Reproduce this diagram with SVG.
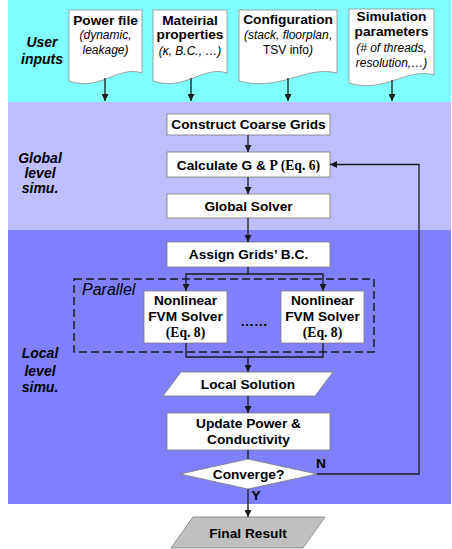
<svg xmlns="http://www.w3.org/2000/svg" width="452" height="549" viewBox="0 0 452 549">
<defs>
<marker id="ah" viewBox="0 0 10 10" refX="10" refY="5" markerWidth="7" markerHeight="7" markerUnits="userSpaceOnUse" orient="auto">
<path d="M0,0 L10,5 L0,10 Z" fill="#1a1a1a"/>
</marker>
<style>
.box{fill:#fff;stroke:#7a7a7a;stroke-width:0.8}
.doc{fill:#fff;stroke:#8a8a8a;stroke-width:0.8}
.t{font-family:"Liberation Sans",Arial,sans-serif;font-weight:bold;font-size:13.7px;fill:#000;text-anchor:middle}
.s{font-family:"Liberation Serif","Times New Roman",serif;font-weight:bold}
.it{font-family:"Liberation Sans",Arial,sans-serif;font-style:italic;font-size:12px;fill:#000;text-anchor:middle}
.lab{font-family:"Liberation Sans",Arial,sans-serif;font-style:italic;font-weight:bold;font-size:14px;fill:#000;text-anchor:middle}
.c{fill:none;stroke:#1a1a1a;stroke-width:1.3}
.ca{fill:none;stroke:#1a1a1a;stroke-width:1.3;marker-end:url(#ah)}
</style>
</defs>
<g id="bands">
<rect x="8" y="0" width="443" height="102" fill="#80FFFF"/>
<rect x="8" y="102" width="443" height="128" fill="#BFBFFF"/>
<rect x="8" y="230" width="443" height="274" fill="#8080FF"/>
</g>
<g id="labels">
<text class="lab" x="42" y="47">User</text>
<text class="lab" x="42" y="64">inputs</text>
<text class="lab" x="40" y="163">Global</text>
<text class="lab" x="40" y="178">level</text>
<text class="lab" x="40" y="193">simu.</text>
<text class="lab" x="40" y="358">Local</text>
<text class="lab" x="40" y="376">level</text>
<text class="lab" x="40" y="392">simu.</text>
</g>
<g id="doc-power">
<path class="doc" d="M69,10 H142 V73 C118,65 100,92 69,81 Z"/>
<text class="t" x="105.5" y="25">Power file</text>
<text class="it" x="105.5" y="39">(dynamic,</text>
<text class="it" x="105.5" y="54">leakage)</text>
</g>
<g id="doc-material">
<path class="doc" d="M153,10 H227 V73 C203,65 185,92 153,81 Z"/>
<text class="t" x="190" y="25">Mateirial</text>
<text class="t" x="190" y="39">properties</text>
<text class="it" x="190" y="55">(κ, B.C., …)</text>
</g>
<g id="doc-config">
<path class="doc" d="M239,10 H337 V73 C305,65 282,92 239,81 Z"/>
<text class="t" x="288" y="24">Configuration</text>
<text class="it" x="288" y="39">(stack, floorplan<tspan font-style="normal">,</tspan></text>
<text class="it" x="288" y="54"><tspan font-style="normal">TSV info</tspan>)</text>
</g>
<g id="doc-sim">
<path class="doc" d="M349,9 H434 V75 C406,67 386,94 349,83 Z"/>
<text class="t" x="391.5" y="21">Simulation</text>
<text class="t" x="391.5" y="36">parameters</text>
<text class="it" x="391.5" y="52">(# of threads,</text>
<text class="it" x="391.5" y="67">resolution,…)</text>
</g>
<g id="construct">
<rect class="box" x="167" y="114" width="163" height="21"/>
<text class="t" x="248.5" y="129">Construct Coarse Grids</text>
</g>
<g id="calculate">
<rect class="box" x="167" y="152" width="163" height="25"/>
<text class="t" x="248.5" y="169.5">Calculate G &amp; <tspan class="s">P (Eq. 6)</tspan></text>
</g>
<g id="global-solver">
<rect class="box" x="167" y="194" width="163" height="24"/>
<text class="t" x="248.5" y="211">Global Solver</text>
</g>
<g id="assign">
<rect class="box" x="167" y="242" width="163" height="25"/>
<text class="t" x="248.5" y="259">Assign Grids’ B.C.</text>
</g>
<g id="parallel">
<rect x="74" y="279" width="300" height="73" fill="none" stroke="#1a1a1a" stroke-width="1.5" stroke-dasharray="8,4"/>
<text x="82" y="295" font-family="'Liberation Sans',Arial,sans-serif" font-style="italic" font-size="16" fill="#000">Parallel</text>
</g>
<g id="fvm1">
<rect class="box" x="144" y="291" width="83" height="52"/>
<text class="t" x="185.5" y="305">Nonlinear</text>
<text class="t" x="185.5" y="321">FVM Solver</text>
<text class="t s" x="185.5" y="337" font-size="13">(Eq. 8)</text>
</g>
<g id="dots">
<text class="t" x="254" y="326">……</text>
</g>
<g id="fvm2">
<rect class="box" x="281" y="291" width="83" height="52"/>
<text class="t" x="322.5" y="305">Nonlinear</text>
<text class="t" x="322.5" y="321">FVM Solver</text>
<text class="t s" x="322.5" y="337" font-size="13">(Eq. 8)</text>
</g>
<g id="local-solution">
<polygon class="box" points="181,372 333,372 315,396 163,396"/>
<text class="t" x="248" y="389">Local Solution</text>
</g>
<g id="update">
<rect class="box" x="167" y="413" width="163" height="37"/>
<text class="t" x="248.5" y="428">Update Power &amp;</text>
<text class="t" x="248.5" y="444">Conductivity</text>
</g>
<g id="converge">
<polygon class="box" points="248,459 317,474 248,489 180,474"/>
<text class="t" x="248.5" y="479">Converge?</text>
</g>
<g id="final">
<polygon points="193,517 325,517 303,548 171,548" fill="#C0C0C0" stroke="#7a7a7a" stroke-width="0.8"/>
<text class="t" x="248" y="538">Final Result</text>
</g>
<g id="connectors">
<line class="ca" x1="105" y1="78" x2="105" y2="101"/>
<line class="ca" x1="191" y1="78" x2="191" y2="101"/>
<line class="ca" x1="288" y1="78" x2="288" y2="101"/>
<line class="ca" x1="392" y1="80" x2="392" y2="101"/>
<line class="ca" x1="248" y1="135" x2="248" y2="152"/>
<line class="ca" x1="248" y1="177" x2="248" y2="194"/>
<line class="ca" x1="248" y1="218" x2="248" y2="242"/>
<polyline class="c" points="248,267 248,274"/>
<polyline class="ca" points="248,274 186,274 186,291"/>
<polyline class="ca" points="248,274 323,274 323,291"/>
<polyline class="c" points="186,343 186,357 323,357 323,343"/>
<line class="ca" x1="248" y1="357" x2="248" y2="372"/>
<line class="ca" x1="248" y1="396" x2="248" y2="413"/>
<line class="c" x1="248" y1="450" x2="248" y2="459"/>
<polyline class="ca" points="317,474 419,474 419,164.5 330,164.5"/>
<line class="ca" x1="248" y1="489" x2="248" y2="517"/>
<text class="t" x="321" y="468" font-size="12">N</text>
<text class="t" x="256" y="500" font-size="12">Y</text>
</g>
</svg>
